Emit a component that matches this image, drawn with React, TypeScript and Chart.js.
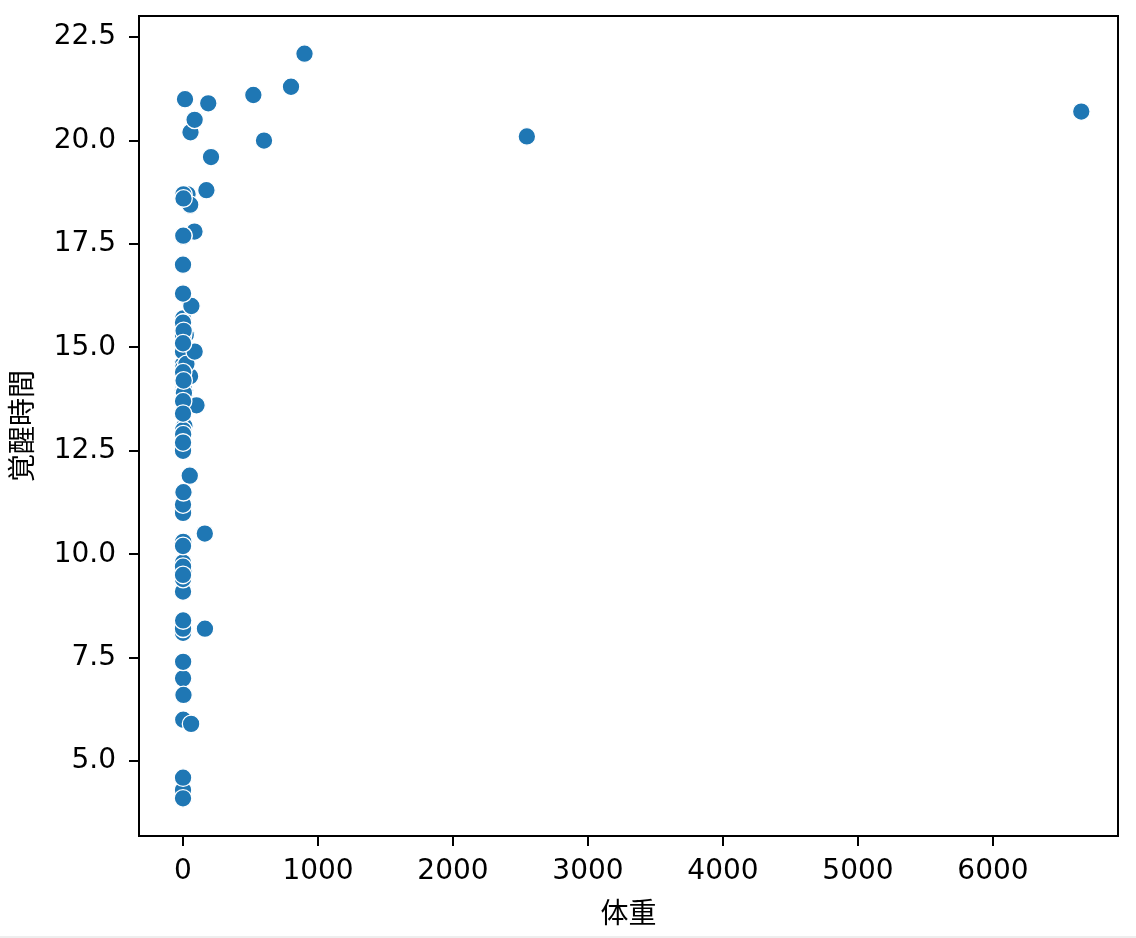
import React, { useEffect, useRef } from "react";
import { Chart, registerables } from "chart.js";

Chart.register(...registerables);

// msleep: body weight (kg) and hours awake
const bodyWeight = [
  50.0, 0.48, 1.35, 0.019, 600.0, 3.85, 20.49, 0.045, 14.0, 14.8,
  33.5, 0.728, 4.75, 0.42, 0.06, 1.0, 0.005, 3.5, 2.95, 1.7,
  2547.0, 0.023, 521.0, 187.0, 0.77, 10.0, 0.071, 3.3, 0.2, 899.995,
  800.0, 85.0, 2.625, 62.0, 1.67, 6654.0, 0.37, 6.8, 0.053, 0.12,
  0.035, 0.022, 0.01, 0.266, 1.4, 0.21, 0.028, 2.5, 55.5, 52.2,
  162.564, 100.0, 161.499, 25.235, 0.55, 1.1, 0.021, 1.62, 86.0, 53.18,
  1.1, 60.0, 3.6, 0.32, 0.044, 0.743, 0.075, 0.148, 0.122, 0.92,
  0.101, 0.205, 0.048, 86.25, 4.5, 0.112, 207.501, 0.9, 0.104, 173.33,
  2.0, 3.38, 4.23,
];
const awakeHours = [
  11.9, 7.0, 9.6, 9.1, 20.0, 9.6, 15.3, 17.0, 13.9, 21.0,
  18.7, 14.6, 14.0, 11.5, 13.7, 15.7, 14.9, 6.6, 18.7, 6.0,
  20.1, 4.3, 21.1, 20.9, 13.9, 13.1, 9.1, 11.5, 14.2, 22.1,
  21.3, 17.8, 17.7, 16.0, 14.5, 20.7, 4.6, 13.9, 9.8, 9.7,
  11.2, 11.5, 4.1, 9.4, 13.0, 16.3, 9.5, 15.6, 20.2, 14.3,
  8.2, 13.6, 10.5, 14.6, 13.7, 13.0, 12.5, 10.3, 20.5, 18.45,
  12.9, 5.9, 18.6, 11.0, 15.3, 14.4, 15.6, 12.7, 13.4, 7.4,
  10.2, 8.1, 11.2, 14.9, 15.4, 8.2, 19.6, 8.4, 15.1, 18.8,
  17.7, 11.5, 14.2,
];
const xTicks = [0, 1000, 2000, 3000, 4000, 5000, 6000];
const yTicks = [5.0, 7.5, 10.0, 12.5, 15.0, 17.5, 20.0, 22.5];
const xLabel = "体重";
const yLabel = "覚醒時間";

const framePlugin = {
  id: "frame",
  afterDatasetsDraw(chart: any) {
    const { ctx, chartArea } = chart;
    ctx.save();
    ctx.strokeStyle = "#000";
    ctx.lineWidth = 2;
    ctx.strokeRect(chartArea.left, chartArea.top, chartArea.right - chartArea.left, chartArea.bottom - chartArea.top);
    ctx.restore();
  },
};

export default function App() {
  const ref = useRef<HTMLCanvasElement>(null);
  useEffect(() => {
    if (!ref.current) return;
    const tickFont = { family: "'DejaVu Sans', sans-serif", size: 28 };
    const titleFont = { family: "'Noto Sans CJK JP', 'DejaVu Sans', sans-serif", size: 28 };
    const chart = new Chart(ref.current, {
      type: "scatter",
      data: {
        datasets: [
          {
            data: bodyWeight.map((w, i) => ({ x: w, y: awakeHours[i] })),
            backgroundColor: "#1f77b4",
            borderColor: "#ffffff",
            borderWidth: 1.3,
            pointRadius: 8.8,
            pointHoverRadius: 8.8,
          },
        ],
      },
      options: {
        animation: false,
        responsive: false,
        devicePixelRatio: 1,
        layout: { padding: { top: 16, right: 18, left: 0, bottom: 0 } },
        plugins: { legend: { display: false }, tooltip: { enabled: false } },
        scales: {
          x: {
            type: "linear",
            min: -326,
            max: 6926,
            afterBuildTicks: (s: any) => {
              s.ticks = xTicks.map((v) => ({ value: v }));
            },
            afterFit: (s: any) => {
              s.height = 100;
              s.paddingLeft = 0;
              s.paddingRight = 0;
            },
            border: { display: false },
            grid: { display: true, drawOnChartArea: false, drawTicks: true, tickLength: 10, color: "#000", lineWidth: 2 },
            ticks: {
              autoSkip: false,
              maxRotation: 0,
              padding: 9,
              color: "#000",
              font: tickFont,
              callback: (v: any) => String(v),
            },
            title: { display: true, text: xLabel, color: "#000", font: titleFont, padding: { top: 0, bottom: 7 } },
          },
          y: {
            type: "linear",
            min: 3.19,
            max: 23.01,
            afterBuildTicks: (s: any) => {
              s.ticks = yTicks.map((v) => ({ value: v }));
            },
            afterFit: (s: any) => {
              s.width = 139;
              s.paddingTop = 0;
              s.paddingBottom = 0;
            },
            border: { display: false },
            grid: { display: true, drawOnChartArea: false, drawTicks: true, tickLength: 10, color: "#000", lineWidth: 2 },
            ticks: {
              autoSkip: false,
              padding: 13,
              color: "#000",
              font: tickFont,
              callback: (v: any) => Number(v).toFixed(1),
            },
            title: { display: true, text: yLabel, color: "#000", font: titleFont, padding: { top: 5, bottom: 0 } },
          },
        },
      },
      plugins: [framePlugin],
    });
    return () => chart.destroy();
  }, []);
  return (
    <div style={{ position: "absolute", left: 0, top: 0, width: 1136, height: 938, background: "#eeeeee" }}>
      <canvas ref={ref} width={1136} height={936} style={{ display: "block", width: 1136, height: 936, background: "#fff" }} />
    </div>
  );
}
